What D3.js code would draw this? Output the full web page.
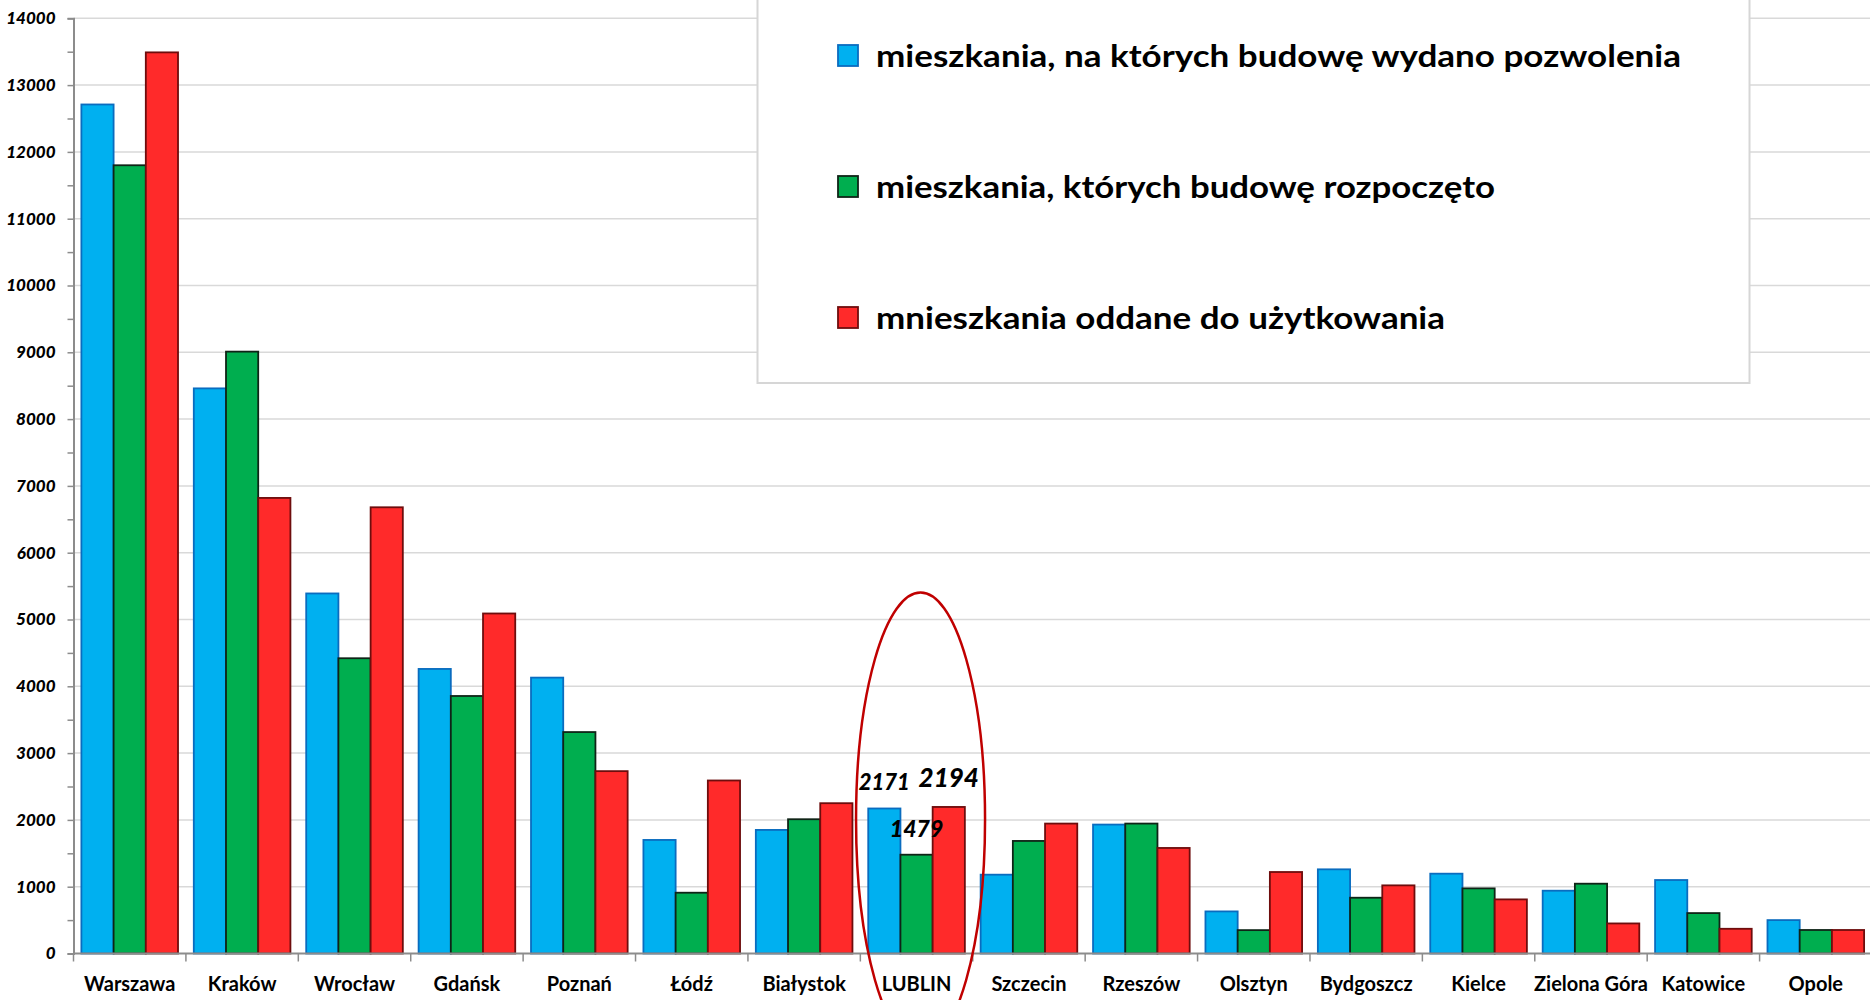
<!DOCTYPE html>
<html lang="pl">
<head>
<meta charset="utf-8">
<script src="https://cdn.jsdelivr.net/npm/d3@7"></script>
<style>
  html, body { margin: 0; padding: 0; background: #fff; }
  svg { display: block; font-family: Lato, "Open Sans", sans-serif; }
</style>
</head>
<body>
<svg id="chart" width="1870" height="1000"></svg>
<script>
// Cities (category axis)
const cities = ["Warszawa", "Kraków", "Wrocław", "Gdańsk", "Poznań", "Łódź", "Białystok", "LUBLIN",
  "Szczecin", "Rzeszów", "Olsztyn", "Bydgoszcz", "Kielce", "Zielona Góra", "Katowice", "Opole"];

// Dwellings with building permits issued
const permits = [12710, 8460, 5390, 4260, 4130, 1700, 1850, 2171, 1180, 1930, 630, 1260, 1195, 940, 1100, 500];
// Dwellings whose construction started
const started = [11800, 9010, 4420, 3855, 3315, 910, 2010, 1479, 1685, 1945, 350, 835, 975, 1045, 605, 352];
// Dwellings completed
const completed = [13490, 6820, 6680, 5090, 2730, 2590, 2250, 2194, 1945, 1580, 1220, 1020, 810, 450, 370, 352];

const seriesNames = [
  "mieszkania, na których budowę wydano pozwolenia",
  "mieszkania, których budowę rozpoczęto",
  "mnieszkania oddane do użytkowania"
];
const yTicks = [0, 1000, 2000, 3000, 4000, 5000, 6000, 7000, 8000, 9000, 10000, 11000, 12000, 13000, 14000];
const highlighted = "LUBLIN";

const fills = ["#00b0f0", "#00ae4f", "#ff2a2a"];
const strokes = ["#0a6cbf", "#0f2417", "#6e0d0d"];
const series = [permits, started, completed];

const svg = d3.select("#chart");

const x0 = d3.scaleBand().domain(cities).range([73.5, 1872]).padding(0);
const x1 = d3.scaleBand().domain(d3.range(series.length)).range([0, x0.bandwidth()])
  .paddingInner(0).paddingOuter(0.245);
const y = d3.scaleLinear().domain([0, 14000]).range([953.5, 18.3]);

// horizontal gridlines
svg.append("g").selectAll("line").data(yTicks.filter(d => d > 0)).join("line")
  .attr("x1", x0.range()[0]).attr("x2", 1870)
  .attr("y1", d => y(d)).attr("y2", d => y(d))
  .attr("stroke", "#d9d9d9").attr("stroke-width", 1.5);

// bars
const groups = svg.append("g").selectAll("g").data(cities).join("g")
  .attr("transform", c => `translate(${x0(c)},0)`);
groups.selectAll("rect")
  .data((c, i) => series.map((s, k) => ({ k, v: s[i] })))
  .join("rect")
  .attr("x", d => x1(d.k))
  .attr("width", x1.bandwidth())
  .attr("y", d => y(d.v))
  .attr("height", d => y(0) - y(d.v))
  .attr("fill", d => fills[d.k])
  .attr("stroke", d => strokes[d.k])
  .attr("stroke-width", 1.8);

// y axis
const yAxis = d3.axisLeft(y)
  .tickValues(d3.range(0, 14001, 500))
  .tickSize(6)
  .tickPadding(12)
  .tickFormat(d => (yTicks.includes(d) ? d : ""));
const gy = svg.append("g").attr("transform", `translate(${x0.range()[0]},0)`).call(yAxis);
gy.select(".domain").attr("stroke", "#8c8c8c").attr("stroke-width", 2);
gy.selectAll(".tick line").attr("stroke", "#8c8c8c").attr("stroke-width", 1.5);
gy.selectAll(".tick text")
  .attr("fill", "#000")
  .style("font-family", "Lato, sans-serif")
  .style("font-size", "17px")
  .style("font-weight", "900")
  .style("font-style", "italic");

// x axis baseline and category separators
const gx = svg.append("g");
gx.append("line")
  .attr("x1", x0.range()[0]).attr("x2", 1870)
  .attr("y1", y(0)).attr("y2", y(0))
  .attr("stroke", "#8c8c8c").attr("stroke-width", 2);
gx.selectAll("line.sep").data(cities).join("line").attr("class", "sep")
  .attr("x1", c => x0(c)).attr("x2", c => x0(c))
  .attr("y1", y(0)).attr("y2", y(0) + 8)
  .attr("stroke", "#8c8c8c").attr("stroke-width", 1.5);
gx.selectAll("text").data(cities).join("text")
  .attr("x", c => x0(c) + x0.bandwidth() / 2)
  .attr("y", 991)
  .attr("text-anchor", "middle")
  .style("font-size", "20px")
  .style("font-weight", "bold")
  .attr("fill", "#000")
  .text(c => c);

// value labels for the highlighted city
const hi = cities.indexOf(highlighted);
const labelSizes = [22, 23, 26];
const labelGaps = [18, 18, 19.5];
svg.append("g").selectAll("text")
  .data(series.map((s, k) => ({ k, v: s[hi] })))
  .join("text")
  .attr("x", d => x0(highlighted) + x1(d.k) + x1.bandwidth() / 2)
  .attr("y", d => y(d.v) - labelGaps[d.k])
  .attr("text-anchor", "middle")
  .style("font-size", d => labelSizes[d.k] + "px")
  .style("font-weight", "900")
  .style("font-style", "italic")
  .attr("fill", "#000")
  .text(d => d.v);

// ellipse around the highlighted city
svg.append("ellipse")
  .attr("cx", x0(highlighted) + x0.bandwidth() / 2 + 4)
  .attr("cy", 819.5)
  .attr("rx", 64.5)
  .attr("ry", 227)
  .attr("fill", "none")
  .attr("stroke", "#c00000")
  .attr("stroke-width", 2.5);

// legend
const legend = svg.append("g");
legend.append("rect")
  .attr("x", 757.5).attr("y", -4)
  .attr("width", 992).attr("height", 387)
  .attr("fill", "#fff").attr("stroke", "#d6d6d6").attr("stroke-width", 2);
const legendWidths = [805, 619, 569];
const rows = legend.selectAll("g").data(seriesNames).join("g")
  .attr("transform", (d, i) => `translate(838,${45 + i * 131})`);
rows.append("rect")
  .attr("width", 20).attr("height", 21)
  .attr("fill", (d, i) => fills[i])
  .attr("stroke", (d, i) => strokes[i])
  .attr("stroke-width", 1.8);
rows.append("text")
  .attr("x", 38).attr("y", 21.5)
  .attr("textLength", (d, i) => legendWidths[i])
  .attr("lengthAdjust", "spacingAndGlyphs")
  .style("font-size", "31px")
  .style("font-weight", "bold")
  .attr("fill", "#000")
  .text(d => d);
</script>
</body>
</html>
